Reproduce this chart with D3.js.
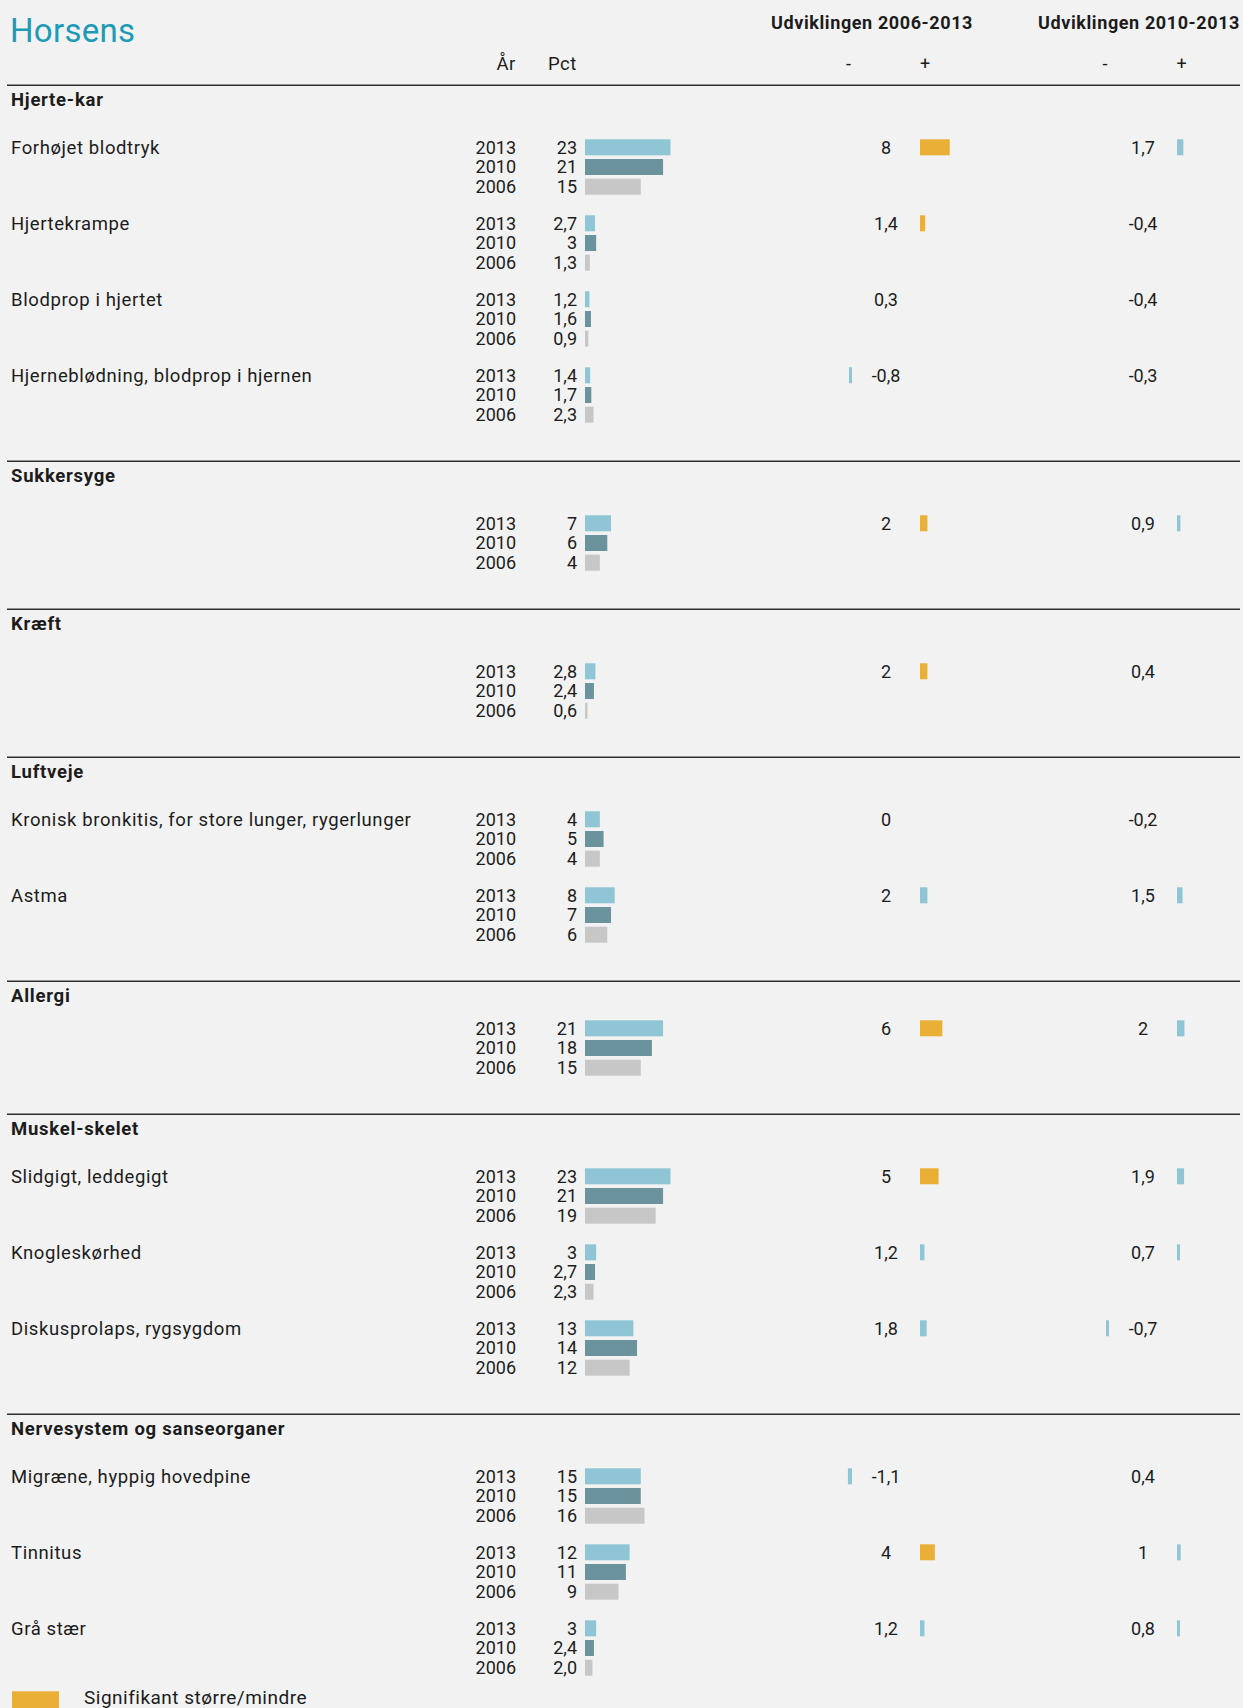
<!DOCTYPE html>
<html>
<head>
<meta charset="utf-8">
<script src="https://cdn.jsdelivr.net/npm/d3@7"></script>
<style>
  html, body { margin: 0; padding: 0; background: #f2f2f2; }
  svg { display: block; font-family: Roboto, "Open Sans", sans-serif; }
</style>
</head>
<body>
<svg id="chart" width="1243" height="1708"></svg>
<script>
// ---- Data -------------------------------------------------------------
const municipality = "Horsens";
const periodTitles = ["Udviklingen 2006-2013", "Udviklingen 2010-2013"];
const years = ["2013", "2010", "2006"];

const groups = ["Hjerte-kar", "Sukkersyge", "Kræft", "Luftveje", "Allergi",
                "Muskel-skelet", "Nervesystem og sanseorganer"];

const conditions = ["Forhøjet blodtryk", "Hjertekrampe", "Blodprop i hjertet",
  "Hjerneblødning, blodprop i hjernen", "", "",
  "Kronisk bronkitis, for store lunger, rygerlunger", "Astma", "",
  "Slidgigt, leddegigt", "Knogleskørhed", "Diskusprolaps, rygsygdom",
  "Migræne, hyppig hovedpine", "Tinnitus", "Grå stær"];
const conditionGroup = [0, 0, 0, 0, 1, 2, 3, 3, 4, 5, 5, 5, 6, 6, 6];

// Prevalence in percent (Danish decimal comma, as printed)
const pct2013 = ["23", "2,7", "1,2", "1,4", "7", "2,8", "4", "8", "21", "23", "3", "13", "15", "12", "3"];
const pct2010 = ["21", "3", "1,6", "1,7", "6", "2,4", "5", "7", "18", "21", "2,7", "14", "15", "11", "2,4"];
const pct2006 = ["15", "1,3", "0,9", "2,3", "4", "0,6", "4", "6", "15", "19", "2,3", "12", "16", "9", "2,0"];

// Change in percentage points; flag: "sig" = significant, "ns" = not significant, null = no bar
const change0613 = ["8", "1,4", "0,3", "-0,8", "2", "2", "0", "2", "6", "5", "1,2", "1,8", "-1,1", "4", "1,2"];
const flag0613 = ["sig", "sig", null, "ns", "sig", "sig", null, "ns", "sig", "sig", "ns", "ns", "ns", "sig", "ns"];
const change1013 = ["1,7", "-0,4", "-0,4", "-0,3", "0,9", "0,4", "-0,2", "1,5", "2", "1,9", "0,7", "-0,7", "0,4", "1", "0,8"];
const flag1013 = ["ns", null, null, null, "ns", null, null, "ns", "ns", "ns", "ns", "ns", null, "ns", "ns"];

const legendText = "Signifikant større/mindre";

// ---- Styling ----------------------------------------------------------
const W = 1243, H = 1708;
const C = {
  bg: "#f2f2f2", ink: "#1c1c1c", title: "#1d9ab6", rule: "#2e2e2e",
  y2013: "#8fc5d5", y2010: "#6a939e", y2006: "#c7c7c7", sig: "#e9af37"
};
const yearColors = [C.y2013, C.y2010, C.y2006];
const num = s => parseFloat(s.replace(",", "."));
const pctByYear = [pct2013, pct2010, pct2006];

// text styles
const T = {
  name: { size: 18.5, ls: 0.6, weight: 400 },
  bold: { size: 18.5, ls: 0.75, weight: 700 },
  period: { size: 18, ls: 0.6, weight: 700 },
  num: { size: 18, ls: 0, weight: 400 },
  legend: { size: 19, ls: 0.5, weight: 400 }
};
const style = (sel, s) => sel.attr("font-size", s.size).attr("letter-spacing", s.ls)
  .attr("font-weight", s.weight).attr("fill", C.ink);

const svg = d3.select("#chart");
svg.append("rect").attr("width", W).attr("height", H).attr("fill", C.bg);

// Shared horizontal scale for percentages and percentage points
const x = d3.scaleLinear().domain([0, 23]).range([0, 85.5]);

// Column positions
const col = { label: 11, year: 516, value: 577, bar: 585 };
const changeCols = [
  { vals: change0613, flags: flag0613, label: 886, zero: 920, negEdge: 852, minus: 848.5, plus: 925, title: 872 },
  { vals: change1013, flags: flag1013, label: 1143, zero: 1177, negEdge: 1109, minus: 1105, plus: 1181.5, title: 1139 }
];

// ---- Header -----------------------------------------------------------
svg.append("text").attr("x", 10).attr("y", 41.5).attr("letter-spacing", 0.3)
  .attr("font-size", 33).attr("fill", C.title).text(municipality);

changeCols.forEach((c, i) => {
  style(svg.append("text").attr("x", c.title).attr("y", 29).attr("text-anchor", "middle"), T.period)
    .text(periodTitles[i]);
  style(svg.append("text").attr("x", c.minus).attr("y", 70).attr("text-anchor", "middle"), T.num).text("-");
  style(svg.append("text").attr("x", c.plus).attr("y", 70).attr("text-anchor", "middle"), T.num).text("+");
});
style(svg.append("text").attr("x", col.year).attr("y", 70).attr("text-anchor", "end"), T.name).text("År");
style(svg.append("text").attr("x", col.value).attr("y", 70).attr("text-anchor", "end"), T.name).text("Pct");

// ---- Vertical layout --------------------------------------------------
const firstRule = 85.3, itemPitch = 76, rowPitch = 19.7, barH = 16;
const tightGroups = new Set(["Allergi"]);
const rules = [], headers = [], itemY = [];
let ruleY = firstRule;
groups.forEach((g, gi) => {
  rules.push(ruleY);
  headers.push({ text: g, y: ruleY + 21 });
  const cy = ruleY + (tightGroups.has(g) ? 47 : 62);
  const members = conditionGroup.map((v, i) => v === gi ? i : -1).filter(i => i >= 0);
  members.forEach((i, k) => { itemY[i] = cy + k * itemPitch; });
  ruleY = itemY[members[members.length - 1]] + 86;
});

svg.append("g").selectAll("line").data(rules).join("line")
  .attr("x1", 7).attr("x2", 1240).attr("y1", d => d).attr("y2", d => d)
  .attr("stroke", C.rule).attr("stroke-width", 1.5);

style(svg.append("g").selectAll("text").data(headers).join("text")
  .attr("x", col.label).attr("y", d => d.y), T.bold).text(d => d.text);

// ---- Condition rows ---------------------------------------------------
const rows = svg.append("g").selectAll("g").data(conditions.map((c, i) => i)).join("g")
  .attr("transform", i => `translate(0,${itemY[i]})`);

style(rows.append("text").attr("x", col.label).attr("y", 6.5), T.name).text(i => conditions[i]);

years.forEach((yr, k) => {
  const dy = k * rowPitch;
  style(rows.append("text").attr("x", col.year).attr("y", dy + 6.5).attr("text-anchor", "end"), T.num)
    .text(yr);
  style(rows.append("text").attr("x", col.value).attr("y", dy + 6.5).attr("text-anchor", "end"), T.num)
    .text(i => pctByYear[k][i]);
  rows.append("rect").attr("x", col.bar).attr("y", dy - barH / 2)
    .attr("width", i => Math.max(2.5, x(num(pctByYear[k][i])))).attr("height", barH)
    .attr("fill", yearColors[k]);
});

// Change columns
changeCols.forEach(c => {
  style(rows.append("text").attr("x", c.label).attr("y", 6.5).attr("text-anchor", "middle"), T.num)
    .text(i => c.vals[i]);
  rows.filter(i => c.flags[i] !== null).append("rect")
    .attr("x", i => {
      const v = num(c.vals[i]);
      const w = Math.max(3, x(Math.abs(v)));
      return v >= 0 ? c.zero : c.negEdge - w;
    })
    .attr("y", -barH / 2).attr("height", barH)
    .attr("width", i => Math.max(3, x(Math.abs(num(c.vals[i])))))
    .attr("fill", i => c.flags[i] === "sig" ? C.sig : C.y2013);
});

// ---- Legend -----------------------------------------------------------
const legendY = itemY[itemY.length - 1] + 63;
svg.append("rect").attr("x", 12).attr("y", legendY).attr("width", 47).attr("height", 20).attr("fill", C.sig);
style(svg.append("text").attr("x", 84).attr("y", legendY + 12.5), T.legend).text(legendText);
</script>
</body>
</html>
